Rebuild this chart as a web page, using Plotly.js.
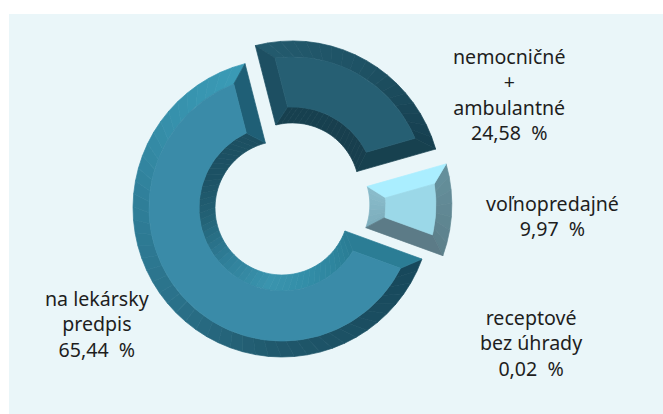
<!DOCTYPE html>
<html>
<head>
<meta charset="utf-8">
<script src="https://cdn.plot.ly/plotly-3.0.1.min.js"></script>
<style>html,body{margin:0;padding:0;background:#fff}#c{width:663px;height:414px}</style>
</head>
<body>
<div id="c"></div>
<script>
// Data
var categories = ['nemocničné + ambulantné', 'voľnopredajné', 'receptové bez úhrady', 'na lekársky predpis'];
var values = [24.58, 9.97, 0.02, 65.44];
var valueLabels = ['24,58', '9,97', '0,02', '65,44'];
var labelLines = [['nemocničné', '+', 'ambulantné'], ['voľnopredajné'], ['receptové', 'bez úhrady'], ['na lekársky', 'predpis']];
var pulls = [0.14, 0.14, 0, 0];
var startAngle = -14.4;

// Layout constants (pixels)
var W = 663, H = 414, L = 9, T = 14;
var cx = 282, cy = 208, R = 149, ri = 67, bevel = 16;
var liftY = [0, -4, 0, 0];
var labelPos = [[509, 94], [552, 216], [531, 343], [97, 324]];

// Styles per slice: facet colour stops as [angle-fraction, colour]
var faceColors = ['#265f73', '#9bd8e8', '#3a8ba8', '#3a8ba8'];
var outerStops = [
  [[0, '#235a6d'], [0.5, '#1e5264'], [1, '#163f4f']],
  [[0, '#65909c'], [1, '#5c808b']],
  null,
  [[0, '#17475a'], [0.15, '#1b4f62'], [0.3, '#20586c'], [0.5, '#2a7189'], [0.7, '#2f7f99'], [0.85, '#3690ab'], [1, '#3a9bb6']]
];
var innerStops = [
  [[0, '#17404f'], [1, '#183f4e']],
  [[0, '#8abccb'], [1, '#7cadbc']],
  null,
  [[0, '#2a7c94'], [0.2, '#338ea8'], [0.33, '#3a94ae'], [0.5, '#2f7e98'], [0.66, '#226175'], [0.8, '#1c5164'], [1, '#1c4f61']]
];
var startSide = ['#1d4f62', '#aaeeff', null, '#2b7d95'];
var endSide = ['#17414f', '#5c7b87', null, '#1f5f76'];

function P(c, a, r) {
  var t = a * Math.PI / 180;
  return [c[0] + r * Math.sin(t), c[1] - r * Math.cos(t)];
}
function hexLerp(a, b, t) {
  var f = function (h, i) { return parseInt(h.substr(1 + 2 * i, 2), 16); };
  var o = [0, 1, 2].map(function (i) { return Math.round(f(a, i) + (f(b, i) - f(a, i)) * t); });
  return 'rgb(' + o.join(',') + ')';
}
function colorAt(stops, t) {
  for (var i = 1; i < stops.length; i++) {
    if (t <= stops[i][0]) {
      return hexLerp(stops[i - 1][1], stops[i][1], (t - stops[i - 1][0]) / (stops[i][0] - stops[i - 1][0]));
    }
  }
  return stops[stops.length - 1][1];
}
var traces = [];
function poly(pts, color) {
  traces.push({
    type: 'scatter', mode: 'lines', x: pts.map(function (p) { return p[0]; }), y: pts.map(function (p) { return p[1]; }),
    fill: 'toself', fillcolor: color, line: { color: color, width: 0.7, shape: 'linear' }, hoverinfo: 'skip', showlegend: false
  });
}
function arc(c, a0, a1, r) {
  var n = Math.max(2, Math.ceil(Math.abs(a1 - a0) / 2)), out = [];
  for (var i = 0; i <= n; i++) out.push(P(c, a0 + (a1 - a0) * i / n, r));
  return out;
}
function ringFacet(c, a0, a1, rA, rB, dB, stops) {
  var span = a1 - a0, n = Math.max(1, Math.round(span / 5));
  for (var i = 0; i < n; i++) {
    var s = i / n, e = (i + 1) / n;
    var aS = a0 + span * s, aE = a0 + span * e;
    var bS = a0 + dB + (span - 2 * dB) * s, bE = a0 + dB + (span - 2 * dB) * e;
    poly(arc(c, aS, aE, rA).concat(arc(c, bE, bS, rB)).concat([P(c, aS, rA)]), colorAt(stops, (s + e) / 2));
  }
}

// Draw every slice from the values
var acc = startAngle;
values.forEach(function (v, k) {
  var a0 = acc, a1 = acc + v * 3.6;
  acc = a1;
  if (!outerStops[k]) return;
  var mid = (a0 + a1) / 2 * Math.PI / 180, off = pulls[k] * R;
  var c = [cx + off * Math.sin(mid), cy - off * Math.cos(mid) + liftY[k]];
  var rO = R - bevel, rI = ri + bevel;
  var dO = Math.asin(bevel / rO) * 180 / Math.PI, dI = Math.asin(bevel / rI) * 180 / Math.PI;
  ringFacet(c, a0, a1, R, rO, dO, outerStops[k]);
  ringFacet(c, a0, a1, ri, rI, dI, innerStops[k]);
  poly([P(c, a0, R), P(c, a0 + dO, rO), P(c, a0 + dI, rI), P(c, a0, ri), P(c, a0, R)], startSide[k]);
  poly([P(c, a1, R), P(c, a1 - dO, rO), P(c, a1 - dI, rI), P(c, a1, ri), P(c, a1, R)], endSide[k]);
  poly(arc(c, a0 + dO, a1 - dO, rO).concat(arc(c, a1 - dI, a0 + dI, rI)).concat([P(c, a0 + dO, rO)]), faceColors[k]);
});

// The pie itself carries the values and the hover
var PW = W - L, PH = H - T, half = R * (1 + Math.max.apply(null, pulls));
traces.push({
  type: 'pie', labels: categories, values: values, sort: false, direction: 'clockwise', rotation: startAngle,
  hole: ri / R, pull: pulls, textinfo: 'none', showlegend: false, hovertemplate: '%{label}: %{value} %<extra></extra>',
  marker: { colors: ['rgba(0,0,0,0)', 'rgba(0,0,0,0)', 'rgba(0,0,0,0)', 'rgba(0,0,0,0)'], line: { width: 0 } },
  domain: { x: [(cx - L - half) / PW, (cx - L + half) / PW], y: [1 - (cy - T + half) / PH, 1 - (cy - T - half) / PH] }
});

var annotations = categories.map(function (name, k) {
  var text = labelLines[k].concat([valueLabels[k] + '\u00a0\u00a0%']).join('<br>');
  return {
    text: text, x: labelPos[k][0], y: labelPos[k][1], xref: 'x', yref: 'y', showarrow: false, align: 'center',
    xanchor: 'center', yanchor: 'middle', font: { family: 'Noto Sans, Open Sans, sans-serif', size: 19.6, color: '#1e1e1e' }
  };
});

Plotly.newPlot('c', traces, {
  width: W, height: H, margin: { l: L, t: T, r: 0, b: 0, pad: 0 },
  paper_bgcolor: '#ffffff', plot_bgcolor: '#eaf6f9', showlegend: false,
  xaxis: { range: [L, W], visible: false, fixedrange: true },
  yaxis: { range: [H, T], visible: false, fixedrange: true },
  annotations: annotations
}, { displayModeBar: false });
</script>
</body>
</html>
